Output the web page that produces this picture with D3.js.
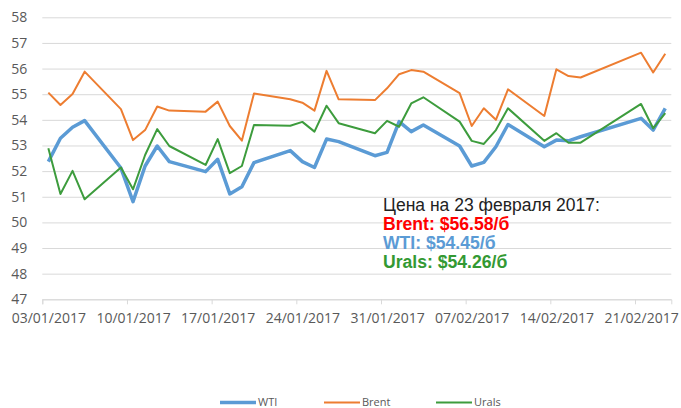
<!DOCTYPE html>
<html>
<head>
<meta charset="utf-8">
<script src="https://cdn.jsdelivr.net/npm/d3@7"></script>
<style>
  body { margin: 0; background: #fff; }
  svg { display: block; }
</style>
</head>
<body>
<svg id="chart" width="681" height="408"></svg>
<script>
// торговые дни (январь-февраль 2017)
var dates = ["2017-01-03","2017-01-04","2017-01-05","2017-01-06","2017-01-09","2017-01-10",
  "2017-01-11","2017-01-12","2017-01-13","2017-01-16","2017-01-17","2017-01-18","2017-01-19",
  "2017-01-20","2017-01-23","2017-01-24","2017-01-25","2017-01-26","2017-01-27","2017-01-30",
  "2017-01-31","2017-02-01","2017-02-02","2017-02-03","2017-02-06","2017-02-07","2017-02-08",
  "2017-02-09","2017-02-10","2017-02-13","2017-02-14","2017-02-15","2017-02-16","2017-02-21",
  "2017-02-22","2017-02-23"];

var wti = [52.37, 53.28, 53.71, 53.97, 52.12, 50.81, 52.20, 52.98, 52.37, 51.98, 52.46, 51.11,
  51.39, 52.33, 52.80, 52.37, 52.14, 53.25, 53.15, 52.60, 52.73, 53.93, 53.54, 53.80, 52.98,
  52.20, 52.34, 52.95, 53.82, 52.95, 53.21, 53.18, 53.34, 54.06, 53.60, 54.45];

var brent = [55.06, 54.58, 55.01, 55.88, 54.42, 53.21, 53.60, 54.52, 54.36, 54.32, 54.71, 53.76,
  53.19, 55.03, 54.80, 54.67, 54.36, 55.91, 54.80, 54.77, 55.23, 55.78, 55.94, 55.88, 55.04,
  53.76, 54.45, 54.00, 55.19, 54.15, 55.97, 55.71, 55.65, 56.62, 55.85, 56.58];

var urals = [52.89, 51.11, 52.01, 50.90, 52.14, 51.29, 52.63, 53.64, 52.98, 52.24, 53.25, 51.92,
  52.20, 53.80, 53.77, 53.92, 53.54, 54.55, 53.87, 53.48, 53.96, 53.73, 54.64, 54.88, 53.93,
  53.18, 53.06, 53.60, 54.45, 53.18, 53.48, 53.11, 53.11, 54.62, 53.67, 54.26];

var tickDates = ["2017-01-03","2017-01-10","2017-01-17","2017-01-24","2017-01-31",
  "2017-02-07","2017-02-14","2017-02-21"];
var yTicks = [47, 48, 49, 50, 51, 52, 53, 54, 55, 56, 57, 58];

var seriesNames = ["WTI", "Brent", "Urals"];
var noteLines = ["Цена на 23 февраля 2017:", "Brent: $56.58/б", "WTI: $54.45/б", "Urals: $54.26/б"];

var colors = { WTI: "#5b9bd5", Brent: "#ed7d31", Urals: "#3d9c3d" };
var widths = { WTI: 3.5, Brent: 2, Urals: 2 };

var parse = d3.utcParse("%Y-%m-%d");
var fmt = d3.utcFormat("%d/%m/%Y");
var HALF = 12 * 3600 * 1000;

var svg = d3.select("#chart");

var x = d3.scaleUtc()
  .domain([parse("2017-01-03"), parse("2017-02-24")])
  .range([42.3, 671.3]);
var y = d3.scaleLinear().domain([47, 58]).range([299.3, 17.3]);

// сетка + подписи оси Y
var gy = svg.append("g")
  .attr("transform", "translate(42.3,0)")
  .call(d3.axisLeft(y).tickValues(yTicks).tickSize(-(671.3 - 42.3)).tickPadding(15).tickFormat(d3.format("d")));
gy.select(".domain").remove();
gy.selectAll("line").attr("stroke", "#d9d9d9").attr("stroke-width", 1);
gy.selectAll("text")
  .attr("fill", "#595959")
  .attr("font-family", "Open Sans, sans-serif")
  .attr("font-size", 14);

// ось X
var gx = svg.append("g")
  .attr("transform", "translate(0," + y(47) + ")")
  .call(d3.axisBottom(x).tickValues(tickDates.map(parse)).tickSize(5).tickPadding(9).tickFormat(fmt));
gx.select(".domain").attr("stroke", "#d9d9d9");
gx.selectAll("line").attr("stroke", "#d9d9d9");
var halfPx = x(new Date(parse("2017-01-03").getTime() + HALF)) - x(parse("2017-01-03"));
gx.selectAll("text")
  .attr("x", halfPx)
  .attr("fill", "#595959")
  .attr("font-family", "Open Sans, sans-serif")
  .attr("font-size", 14);

// линии
var series = [
  { name: "WTI", values: wti },
  { name: "Brent", values: brent },
  { name: "Urals", values: urals }
];

var line = d3.line()
  .x(function(d) { return x(new Date(d.date.getTime() + HALF)); })
  .y(function(d) { return y(d.v); });

// рисуем в порядке: WTI, Brent, Urals
series.forEach(function(s) {
  var pts = dates.map(function(dt, i) { return { date: parse(dt), v: s.values[i] }; });
  svg.append("path")
    .datum(pts)
    .attr("fill", "none")
    .attr("stroke", colors[s.name])
    .attr("stroke-width", widths[s.name])
    .attr("stroke-linejoin", "round")
    .attr("d", line);
});

// подпись с ценами
var noteColors = ["#222222", "#ff0000", colors.WTI, "#339933"];
var note = svg.append("g").attr("font-family", "Liberation Sans, Arial, sans-serif");
noteLines.forEach(function(t, i) {
  note.append("text")
    .attr("x", 383)
    .attr("y", 211 + i * 19)
    .attr("fill", noteColors[i])
    .attr("font-size", i == 0 ? 17.5 : 17.6)
    .attr("font-weight", i == 0 ? "normal" : "bold")
    .text(t);
});

// легенда
var legX = [220, 324, 436];
var leg = svg.append("g");
seriesNames.forEach(function(n, i) {
  leg.append("line")
    .attr("x1", legX[i]).attr("x2", legX[i] + 36)
    .attr("y1", 402.5).attr("y2", 402.5)
    .attr("stroke", colors[n])
    .attr("stroke-width", widths[n]);
  leg.append("text")
    .attr("x", legX[i] + 38)
    .attr("y", 406)
    .attr("fill", "#595959")
    .attr("font-family", "Open Sans, sans-serif")
    .attr("font-size", 11)
    .text(n);
});
</script>
</body>
</html>
